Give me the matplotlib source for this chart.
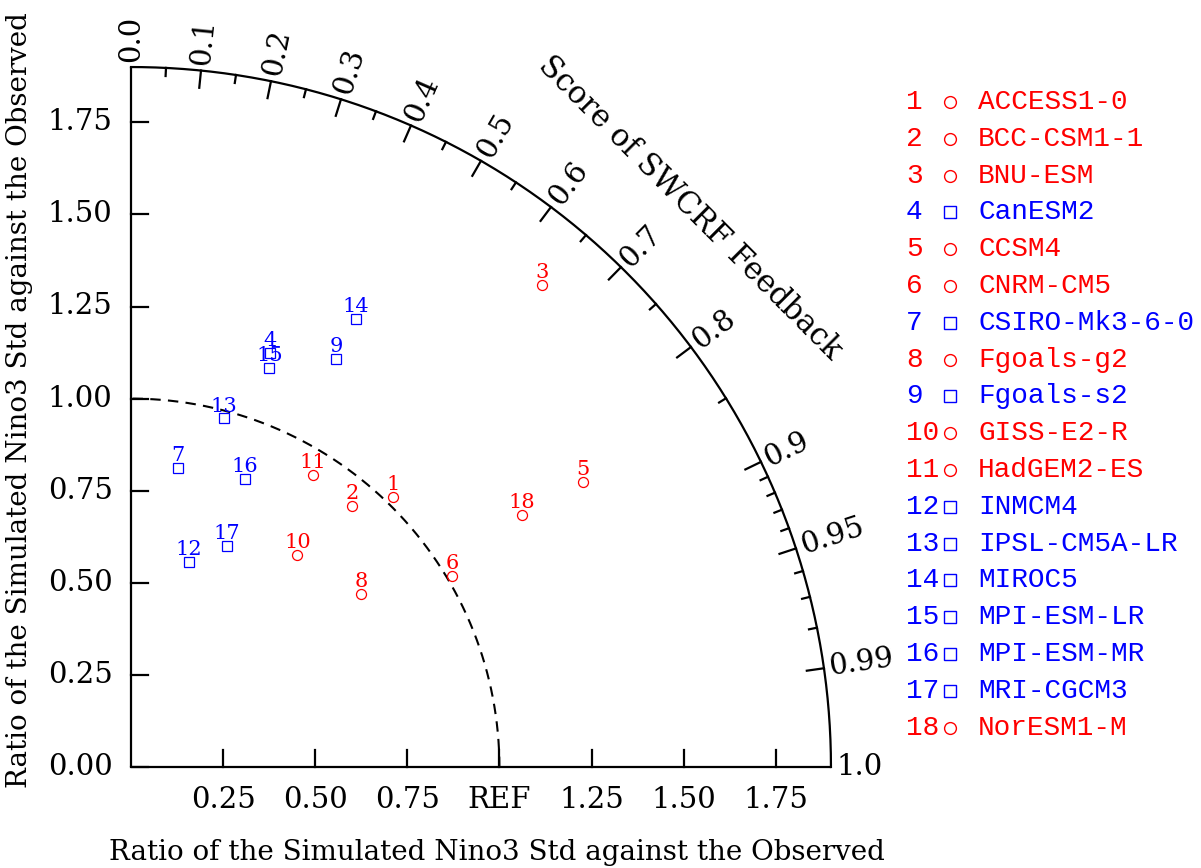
import numpy as np
import matplotlib.pyplot as plt

# =========================================================
# DATI (rapporto std e correlazione)
# =========================================================
models = ["ACCESS1-0", "BCC-CSM1-1", "BNU-ESM", "CanESM2", "CCSM4", "CNRM-CM5",
          "CSIRO-Mk3-6-0", "Fgoals-g2", "Fgoals-s2", "GISS-E2-R", "HadGEM2-ES",
          "INMCM4", "IPSL-CM5A-LR", "MIROC5", "MPI-ESM-LR", "MPI-ESM-MR",
          "MRI-CGCM3", "NorESM1-M"]
std_ratio = [1.021, 0.928, 1.719, 1.186, 1.451, 1.014, 0.822, 0.783, 1.239,
             0.731, 0.934, 0.578, 0.979, 1.361, 1.146, 0.840, 0.653, 1.262]
corr = [0.696, 0.647, 0.649, 0.318, 0.846, 0.859, 0.156, 0.799, 0.449,
        0.618, 0.528, 0.273, 0.257, 0.449, 0.328, 0.367, 0.397, 0.840]
# modelli disegnati con quadrato blu
square_models = [4, 7, 9, 12, 13, 14, 15, 16, 17]

std_ticks = [0.25, 0.50, 0.75, 1.00, 1.25, 1.50, 1.75]
std_xlabels = ["0.25", "0.50", "0.75", "REF", "1.25", "1.50", "1.75"]
std_yticks = [0.0, 0.25, 0.50, 0.75, 1.00, 1.25, 1.50, 1.75]
corr_major = [0.1, 0.2, 0.3, 0.4, 0.5, 0.6, 0.7, 0.8, 0.9, 0.95, 0.99]
corr_labels = [0.0, 0.1, 0.2, 0.3, 0.4, 0.5, 0.6, 0.7, 0.8, 0.9, 0.95, 0.99, 1.0]
corr_minor = [0.05, 0.15, 0.25, 0.35, 0.45, 0.55, 0.65, 0.75, 0.85,
              0.91, 0.92, 0.93, 0.94, 0.96, 0.97, 0.98]

# =========================================================
# CONFIGURAZIONE
# =========================================================
RMAX = 1.9
PX = 368.4          # pixel per unita'
W, H = 1201, 868
X0, Y0 = 131, 767   # origine in pixel
FONT = "DejaVu Serif"
LEG_FONT = "Liberation Mono"
plt.rcParams['font.family'] = FONT

fig = plt.figure(figsize=(W / 100, H / 100), dpi=100)
ax = fig.add_axes([0, 0, 1, 1])
ax.set_xlim(-X0 / PX, (W - X0) / PX)
ax.set_ylim(-(H - Y0) / PX, Y0 / PX)
ax.axis("off")

lw_ax = 1.6
tmaj = 0.047
tmin = 0.022
fs_tick = 21

# =========================================================
# ASSI
# =========================================================
ax.plot([0, 0], [0, RMAX], color='k', lw=lw_ax, solid_capstyle='butt')
ax.plot([0, RMAX], [0, 0], color='k', lw=lw_ax, solid_capstyle='butt')
th = np.linspace(0, np.pi / 2, 400)
ax.plot(RMAX * np.cos(th), RMAX * np.sin(th), color='k', lw=lw_ax)

for v, lab in zip(std_ticks, std_xlabels):
    ax.plot([v, v], [0, tmaj], color='k', lw=lw_ax)
    ax.text(v, -0.09, lab, ha='center', va='center', fontsize=fs_tick)

for v in std_yticks:
    ax.plot([0, tmaj], [v, v], color='k', lw=lw_ax)
    ax.text(-0.05, v, f"{v:.2f}", ha='right', va='center', fontsize=fs_tick)

# cerchio std = osservato
ax.plot(np.cos(th), np.sin(th), color='k', lw=1.5, ls=(0, (5, 3.5)))

# tick di correlazione
for c in corr_major:
    a = np.arccos(c)
    ax.plot([RMAX * np.cos(a), (RMAX - tmaj) * np.cos(a)],
            [RMAX * np.sin(a), (RMAX - tmaj) * np.sin(a)], color='k', lw=lw_ax)
for c in corr_minor:
    a = np.arccos(c)
    ax.plot([RMAX * np.cos(a), (RMAX - tmin) * np.cos(a)],
            [RMAX * np.sin(a), (RMAX - tmin) * np.sin(a)], color='k', lw=lw_ax)
for c in corr_labels:
    a = np.arccos(c)
    rl = RMAX + 0.015
    lab = f"{c:.2f}" if c in (0.95, 0.99) else f"{c:.1f}"
    ax.text(rl * np.cos(a), rl * np.sin(a), lab, rotation=np.degrees(a),
            rotation_mode='anchor', ha='left', va='center', fontsize=fs_tick)

ax.text(2.146 * np.cos(np.pi / 4), 2.146 * np.sin(np.pi / 4),
        "Score of SWCRF Feedback", rotation=-45, ha='center', va='center',
        fontsize=22)

# etichette assi
fig.text(497 / W, 1 - 852 / H, "Ratio of the Simulated Nino3 Std against the Observed",
         ha='center', va='center', fontsize=20)
fig.text(20 / W, 1 - 400 / H, "Ratio of the Simulated Nino3 Std against the Observed",
         ha='center', va='center', rotation=90, fontsize=20)

# =========================================================
# PUNTI
# =========================================================
std_ratio = np.array(std_ratio)
corr = np.array(corr)
xs = std_ratio * corr
ys = std_ratio * np.sqrt(1 - corr ** 2)

for i, (x, y) in enumerate(zip(xs, ys)):
    num = i + 1
    if num in square_models:
        col, mk, ms = 'blue', 's', 7.5
    else:
        col, mk, ms = 'red', 'o', 7.2
    ax.plot(x, y, marker=mk, ms=ms, mfc='none', mec=col, mew=0.9)
    ax.annotate(str(num), (x, y), xytext=(0, 5), textcoords='offset points',
                ha='center', va='baseline', color=col, fontsize=15)

# =========================================================
# LEGENDA
# =========================================================
for i, name in enumerate(models):
    num = i + 1
    py = 102 + i * 36.8
    if num in square_models:
        col, mk, ms = 'blue', 's', 8
    else:
        col, mk, ms = 'red', 'o', 8.5
    fy = 1 - py / H
    fig.text(906 / W, fy, str(num), ha='left', va='center', color=col,
             fontsize=20, family=LEG_FONT)
    ax.plot(950 / W, fy, marker=mk, ms=ms, mfc='none', mec=col, mew=1.0,
            transform=fig.transFigure)
    fig.text(978 / W, fy, name, ha='left', va='center', color=col,
             fontsize=20, family=LEG_FONT)

fig.savefig("out.png", dpi=100)
